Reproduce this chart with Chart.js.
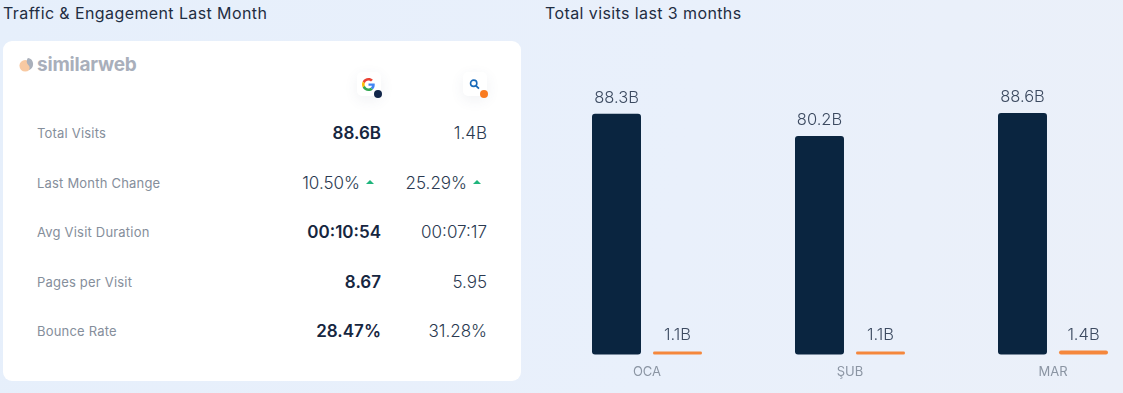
<!DOCTYPE html>
<html>
<head>
<meta charset="utf-8">
<title>Traffic & Engagement</title>
<script src="https://cdn.jsdelivr.net/npm/chart.js@4"></script>
<style>
  html, body { margin: 0; padding: 0; }
  body {
    width: 1123px; height: 393px; overflow: hidden; position: relative;
    background: linear-gradient(100deg, #e6effb 0%, #e9f0fb 60%, #ebf0f9 100%);
    font-family: Inter, sans-serif; color: #1b2b44;
  }
  .title { position: absolute; top: 3px; font-size: 16px; letter-spacing: .4px; line-height: 20px; color: #1f2d42; white-space: nowrap; }
  .card { position: absolute; left: 3px; top: 41px; width: 518px; height: 340px; background: #fff; border-radius: 9px; }
  .logo { position: absolute; left: 16px; top: 12px; display: flex; align-items: center; font-weight: 700; font-size: 19px; color: #a9afbb; letter-spacing: -0.2px; }
  .logo svg { margin-right: 3px; }
  .icon { position: absolute; top: 31px; width: 24px; height: 24px; border-radius: 5px; background: #fff; box-shadow: 0 4px 14px rgba(60,80,120,.08); }
  .icon svg { position: absolute; left: 5px; top: 6px; }
  .icon i { position: absolute; left: 17px; top: 18px; width: 8px; height: 8px; border-radius: 50%; }
  .row-label { position: absolute; left: 34px; font-size: 13px; letter-spacing: .2px; color: #858e9b; white-space: nowrap; transform: translateY(-50%); }
  .val { position: absolute; font-size: 17px; font-weight: 300; white-space: nowrap; transform: translateY(-50%); color: #2a3950; }
  .val.main { font-weight: 600; color: #16263f; }
  .arrow { position: absolute; width: 0; height: 0; border-left: 4px solid transparent; border-right: 4px solid transparent; border-bottom: 4px solid #1fb57c; }
  #chartWrap { position: absolute; left: 530px; top: 0; width: 593px; height: 393px; }
</style>
</head>
<body>
<div class="title" style="left:3px">Traffic &amp; Engagement Last Month</div>
<div class="title" style="left:545px">Total visits last 3 months</div>

<div class="card" id="card">
  <div class="logo">
    <svg width="15" height="15" viewBox="0 0 17 17">
      <circle cx="7" cy="10" r="6.500" fill="#f8c9a2"/>
      <path d="M10 1c4 .5 6 3.500 6 7 0 3.500-2 6-5 7 1.500-2 1.500-4-.5-6C8.500 7 8 4 10 1z" fill="#aab0bb"/>
    </svg>similarweb
  </div>
  <div class="icon" style="left:354px">
    <svg width="13" height="13" viewBox="0 0 48 48">
      <path fill="#EA4335" d="M24 9.500c3.500 0 6.700 1.200 9.200 3.600l6.900-6.900C35.900 2.400 30.500 0 24 0 14.600 0 6.500 5.400 2.600 13.200l8 6.200C12.500 13.600 17.800 9.500 24 9.500z"/>
      <path fill="#4285F4" d="M47 24.500c0-1.600-.2-3.100-.4-4.500H24v9h13c-.6 3-2.200 5.500-4.800 7.200l7.700 6C44.400 37.800 47 31.700 47 24.500z"/>
      <path fill="#FBBC05" d="M10.500 28.600c-.5-1.400-.8-3-.8-4.600s.3-3.200.8-4.600l-8-6.200C.9 16.500 0 20.100 0 24s.9 7.500 2.600 10.800l7.900-6.200z"/>
      <path fill="#34A853" d="M24 48c6.500 0 11.900-2.100 15.900-5.800l-7.700-6c-2.200 1.400-4.900 2.300-8.200 2.300-6.200 0-11.500-4.100-13.400-9.900l-8 6.200C6.500 42.600 14.600 48 24 48z"/>
    </svg>
    <i style="background:#12264a"></i>
  </div>
  <div class="icon" style="left:460px">
    <svg width="14" height="14" viewBox="0 0 16 16">
      <circle cx="6.500" cy="6" r="3.600" fill="none" stroke="#1668b8" stroke-width="1.800"/>
      <path d="M9.300 9l3.200 3.200" stroke="#1668b8" stroke-width="2"/>
    </svg>
    <i style="background:#f97b20"></i>
  </div>
</div>
<div id="chartWrap"><canvas id="visitsChart"></canvas></div>

<script>
// Table rows
const rowLabels = ['Total Visits', 'Last Month Change', 'Avg Visit Duration', 'Pages per Visit', 'Bounce Rate'];
const googleValues = ['88.6B', '10.50%', '00:10:54', '8.67', '28.47%'];
const bingValues = ['1.4B', '25.29%', '00:07:17', '5.95', '31.28%'];
const rowCentres = [92, 142, 191, 241, 290];
const trendRow = 1;

// Bar chart series, in billions
const months = ['OCA', 'ŞUB', 'MAR'];
const googleVisits = [88.3, 80.2, 88.6];
const bingVisits = [1.1, 1.1, 1.4];

const card = document.getElementById('card');

function addCell(cls, text, y, right) {
  const el = document.createElement('div');
  el.className = cls;
  el.textContent = text;
  el.style.top = y + 'px';
  el.style.right = right + 'px';
  card.appendChild(el);
}

rowLabels.forEach((label, i) => {
  const y = rowCentres[i];
  const lab = document.createElement('div');
  lab.className = 'row-label';
  lab.textContent = label;
  lab.style.top = y + 'px';
  card.appendChild(lab);

  if (i === trendRow) {
    addCell('val', googleValues[i], y, 161);
    addCell('val', bingValues[i], y, 54);
    [363, 470].forEach(left => {
      const a = document.createElement('div');
      a.className = 'arrow';
      a.style.left = left + 'px';
      a.style.top = (y - 3) + 'px';
      card.appendChild(a);
    });
  } else {
    addCell('val main', googleValues[i], y, 140);
    addCell('val', bingValues[i], y, 34);
  }
});

// Draws "88.3B" style labels above each bar
const valueLabels = {
  id: 'valueLabels',
  afterDatasetsDraw(chart) {
    const ctx = chart.ctx;
    ctx.save();
    ctx.font = '300 16.5px Inter, sans-serif';
    ctx.fillStyle = '#3c4a60';
    ctx.textAlign = 'center';
    ctx.textBaseline = 'alphabetic';
    chart.data.datasets.forEach((ds, d) => {
      chart.getDatasetMeta(d).data.forEach((bar, i) => {
        ctx.fillText(ds.data[i].toFixed(1) + 'B', bar.x, bar.y - 11);
      });
    });
    ctx.restore();
  },
};

new Chart(document.getElementById('visitsChart'), {
  type: 'bar',
  data: {
    labels: months,
    datasets: [
      { data: googleVisits, backgroundColor: '#0a2540', borderRadius: 3, borderSkipped: false, clip: false },
      { data: bingVisits, backgroundColor: '#f5873c', borderRadius: 2, borderSkipped: false, clip: false },
    ],
  },
  options: {
    responsive: true,
    maintainAspectRatio: false,
    animation: false,
    categoryPercentage: 0.601,
    barPercentage: 0.803,
    layout: { padding: { left: 117, right: 70, top: 82, bottom: 11 } },
    plugins: { legend: { display: false }, tooltip: { enabled: false } },
    scales: {
      x: {
        offset: false,
        grid: { display: false },
        border: { display: false },
        ticks: { color: '#8b95a3', font: { family: 'Inter, sans-serif', size: 13 }, maxRotation: 0, autoSkip: false, padding: 2 },
      },
      y: { display: false, min: 0, max: 100 },
    },
  },
  plugins: [valueLabels],
});
</script>
</body>
</html>
